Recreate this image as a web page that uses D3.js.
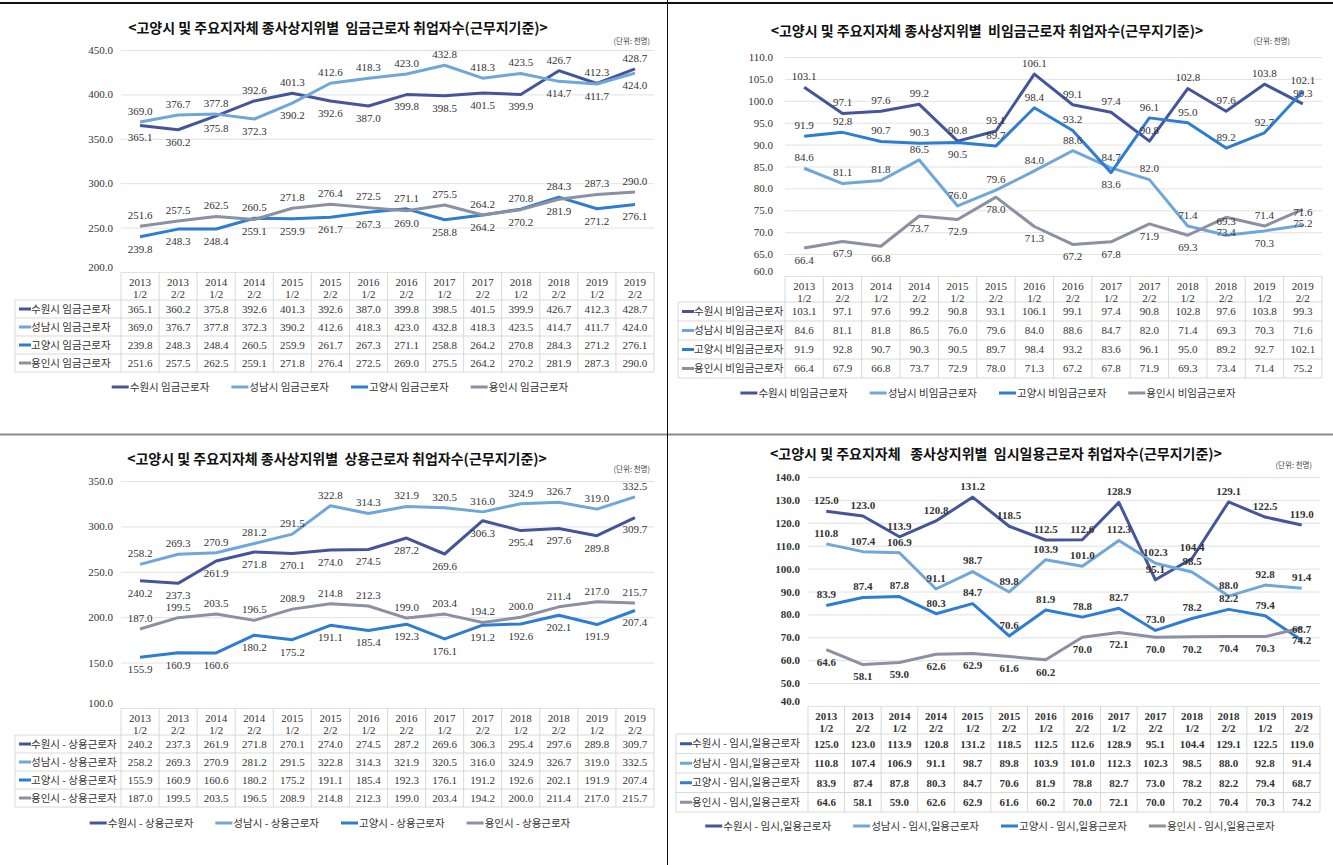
<!DOCTYPE html>
<html>
<head>
<meta charset="utf-8">
<script src="https://cdn.jsdelivr.net/npm/d3@7"></script>
<style>
  body { margin: 0; background: #fff; }
  svg { display: block; }
</style>
</head>
<body>
<svg id="chart" width="1333" height="865"></svg>
<script>
// ---- data ----
const periodYears  = ["2013", "2013", "2014", "2014", "2015", "2015", "2016", "2016", "2017", "2017", "2018", "2018", "2019", "2019"];
const periodHalves = ["1/2", "2/2", "1/2", "2/2", "1/2", "2/2", "1/2", "2/2", "1/2", "2/2", "1/2", "2/2", "1/2", "2/2"];
const cities = ["수원시", "성남시", "고양시", "용인시"];

// 임금근로자
const wageSuwon    = [365.1, 360.2, 375.8, 392.6, 401.3, 392.6, 387.0, 399.8, 398.5, 401.5, 399.9, 426.7, 412.3, 428.7];
const wageSeongnam = [369.0, 376.7, 377.8, 372.3, 390.2, 412.6, 418.3, 423.0, 432.8, 418.3, 423.5, 414.7, 411.7, 424.0];
const wageGoyang   = [239.8, 248.3, 248.4, 260.5, 259.9, 261.7, 267.3, 271.1, 258.8, 264.2, 270.8, 284.3, 271.2, 276.1];
const wageYongin   = [251.6, 257.5, 262.5, 259.1, 271.8, 276.4, 272.5, 269.0, 275.5, 264.2, 270.2, 281.9, 287.3, 290.0];

// 비임금근로자
const nonwageSuwon    = [103.1, 97.1, 97.6, 99.2, 90.8, 93.1, 106.1, 99.1, 97.4, 90.8, 102.8, 97.6, 103.8, 99.3];
const nonwageSeongnam = [84.6, 81.1, 81.8, 86.5, 76.0, 79.6, 84.0, 88.6, 84.7, 82.0, 71.4, 69.3, 70.3, 71.6];
const nonwageGoyang   = [91.9, 92.8, 90.7, 90.3, 90.5, 89.7, 98.4, 93.2, 83.6, 96.1, 95.0, 89.2, 92.7, 102.1];
const nonwageYongin   = [66.4, 67.9, 66.8, 73.7, 72.9, 78.0, 71.3, 67.2, 67.8, 71.9, 69.3, 73.4, 71.4, 75.2];

// 상용근로자
const regularSuwon    = [240.2, 237.3, 261.9, 271.8, 270.1, 274.0, 274.5, 287.2, 269.6, 306.3, 295.4, 297.6, 289.8, 309.7];
const regularSeongnam = [258.2, 269.3, 270.9, 281.2, 291.5, 322.8, 314.3, 321.9, 320.5, 316.0, 324.9, 326.7, 319.0, 332.5];
const regularGoyang   = [155.9, 160.9, 160.6, 180.2, 175.2, 191.1, 185.4, 192.3, 176.1, 191.2, 192.6, 202.1, 191.9, 207.4];
const regularYongin   = [187.0, 199.5, 203.5, 196.5, 208.9, 214.8, 212.3, 199.0, 203.4, 194.2, 200.0, 211.4, 217.0, 215.7];

// 임시,일용근로자
const tempSuwon    = [125.0, 123.0, 113.9, 120.8, 131.2, 118.5, 112.5, 112.6, 128.9, 95.1, 104.4, 129.1, 122.5, 119.0];
const tempSeongnam = [110.8, 107.4, 106.9, 91.1, 98.7, 89.8, 103.9, 101.0, 112.3, 102.3, 98.5, 88.0, 92.8, 91.4];
const tempGoyang   = [83.9, 87.4, 87.8, 80.3, 84.7, 70.6, 81.9, 78.8, 82.7, 73.0, 78.2, 82.2, 79.4, 68.7];
const tempYongin   = [64.6, 58.1, 59.0, 62.6, 62.9, 61.6, 60.2, 70.0, 72.1, 70.0, 70.2, 70.4, 70.3, 74.2];

// ---- styles ----
const cityColors = ["#45559b", "#6fa7d9", "#2e7dd2", "#8b90a3"];
const serif = "'Liberation Serif', 'DejaVu Serif', serif";
const sans  = "'Noto Sans CJK KR', 'Noto Sans', sans-serif";
const textColor = "#333";
const gridColor = "#e2e2e2";

const svg = d3.select("#chart");
svg.append("rect").attr("width", 1333).attr("height", 865).attr("fill", "#fff");

function drawPanel(p) {
  const g = svg.append("g");
  const n = periodYears.length;
  const x = d3.scaleBand().domain(d3.range(n)).range([p.left, p.right]);
  const cx = i => x(i) + x.bandwidth() / 2;
  const y = d3.scaleLinear().domain(p.domain).range([p.bottom, p.top]);
  const ticks = d3.range(p.domain[0], p.domain[1] + p.step / 2, p.step);
  const weight = p.bold ? "bold" : "normal";

  // title + unit
  g.append("text")
    .attr("x", p.titleX).attr("y", p.titleY)
    .attr("text-anchor", "middle")
    .attr("font-family", sans).attr("font-weight", "bold").attr("font-size", "14px")
    .attr("fill", "#111")
    .style("white-space", "pre")
    .text(p.title);
  g.append("text")
    .attr("x", p.unitX).attr("y", p.unitY)
    .attr("text-anchor", "end")
    .attr("font-family", sans).attr("font-size", "7.5px").attr("fill", "#444")
    .text("(단위: 천명)");

  // gridlines and value axis
  g.append("g")
    .attr("transform", `translate(${p.left},0)`)
    .call(d3.axisLeft(y).tickValues(ticks).tickSize(-(p.right - p.left))
      .tickPadding(p.left - p.yLabelRight).tickFormat(d => d.toFixed(1)))
    .call(a => a.select(".domain").remove())
    .call(a => a.selectAll("line").attr("stroke", gridColor))
    .call(a => a.selectAll("text")
      .attr("font-family", serif).attr("font-size", "11px")
      .attr("font-weight", weight).attr("fill", textColor)
      .attr("dy", d => d === p.domain[0] ? "-0.1em" : "0.32em"));

  // lines
  const line = d3.line().x((d, i) => cx(i)).y(d => y(d));
  p.series.forEach((s, si) => {
    g.append("path")
      .datum(s)
      .attr("fill", "none")
      .attr("stroke", cityColors[si])
      .attr("stroke-width", 3)
      .attr("stroke-linejoin", "round")
      .attr("d", line);
  });

  // data labels: each series has a default side, flipped when a neighbouring line is too close
  const side = (si, i) => {
    const py = y(p.series[si][i]);
    const def = p.sides[si];
    for (let sj = 0; sj < p.series.length; sj++) {
      if (sj === si) continue;
      const oy = y(p.series[sj][i]);
      if (def === "above" && oy <= py && py - oy < p.flip) return "below";
      if (def === "below" && oy >= py && oy - py < p.flip) return "above";
    }
    return def;
  };
  const labels = [];
  d3.range(n).forEach(i => {
    const col = p.series.map((s, si) => ({
      i, v: s[i],
      ly: y(s[i]) + (side(si, i) === "above" ? -11 : 12)
    })).sort((a, b) => a.ly - b.ly);
    // push apart labels that would sit on top of each other
    for (let k = 1; k < col.length; k++) {
      const gap = col[k].ly - col[k - 1].ly;
      if (gap < 11) {
        const d = (11 - gap) / 2;
        col[k - 1].ly -= d;
        col[k].ly += d;
      }
    }
    labels.push(...col);
  });
  g.append("g").selectAll("text")
    .data(labels)
    .join("text")
    .attr("x", d => cx(d.i))
    .attr("y", d => d.ly)
    .attr("dy", "0.35em")
    .attr("text-anchor", "middle")
    .attr("font-family", serif).attr("font-size", "11px")
    .attr("font-weight", weight).attr("fill", textColor)
    .text(d => d.v.toFixed(1));

  // data table
  const headTop = p.bottom, headBottom = p.headBottom;
  const rowTop = i => headBottom + i * p.rowH;
  const tableBottom = rowTop(p.series.length);
  const border = g.append("g").attr("stroke", "#d9d9d9").attr("stroke-width", 1);
  d3.range(n + 1).forEach(i => {
    const xx = i < n ? x(i) : p.right;
    border.append("line").attr("x1", xx).attr("x2", xx).attr("y1", headTop).attr("y2", tableBottom);
  });
  border.append("line").attr("x1", p.tableLeft).attr("x2", p.tableLeft).attr("y1", headBottom).attr("y2", tableBottom);
  d3.range(p.series.length + 1).forEach(r => {
    border.append("line").attr("x1", p.tableLeft).attr("x2", p.right)
      .attr("y1", rowTop(r)).attr("y2", rowTop(r));
  });

  const head = g.append("g")
    .attr("font-family", serif).attr("font-size", "11px")
    .attr("font-weight", weight).attr("fill", textColor).attr("text-anchor", "middle");
  head.selectAll("text.yr").data(periodYears).join("text")
    .attr("x", (d, i) => cx(i)).attr("y", headTop + 10).attr("dy", "0.35em").text(d => d);
  head.selectAll("text.hf").data(periodHalves).join("text")
    .attr("x", (d, i) => cx(i)).attr("y", headTop + 22).attr("dy", "0.35em").text(d => d);

  p.series.forEach((s, si) => {
    const my = rowTop(si) + p.rowH / 2;
    g.append("line")
      .attr("x1", p.tableLeft + 4).attr("x2", p.tableLeft + 16)
      .attr("y1", my).attr("y2", my)
      .attr("stroke", cityColors[si]).attr("stroke-width", 3);
    g.append("text")
      .attr("x", p.tableLeft + 16).attr("y", my).attr("dy", "0.35em")
      .attr("font-family", sans).attr("font-size", "10.5px").attr("fill", textColor)
      .text(p.names[si]);
    g.append("g").selectAll("text").data(s).join("text")
      .attr("x", (d, i) => cx(i)).attr("y", my).attr("dy", "0.35em")
      .attr("text-anchor", "middle")
      .attr("font-family", serif).attr("font-size", "11px")
      .attr("font-weight", weight).attr("fill", textColor)
      .text(d => d.toFixed(1));
  });

  // legend
  const legend = g.append("g");
  let lx = 0;
  p.names.forEach((name, si) => {
    const item = legend.append("g").attr("transform", `translate(${lx},0)`);
    item.append("line").attr("x1", 0).attr("x2", 17)
      .attr("y1", 0).attr("y2", 0)
      .attr("stroke", cityColors[si]).attr("stroke-width", 3);
    const t = item.append("text")
      .attr("x", 18).attr("y", 0).attr("dy", "0.35em")
      .attr("font-family", sans).attr("font-size", "10.5px").attr("fill", textColor)
      .text(name);
    lx += 18 + t.node().getComputedTextLength() + p.legendGap;
  });
  const legendWidth = lx - p.legendGap;
  legend.attr("transform", `translate(${p.legendX - legendWidth / 2},${p.legendY})`);
}

drawPanel({
  title: "<고양시 및 주요지자체 종사상지위별  임금근로자 취업자수(근무지기준)>",
  titleX: 338, titleY: 33, unitX: 650, unitY: 44,
  series: [wageSuwon, wageSeongnam, wageGoyang, wageYongin],
  names: cities.map(c => c + " 임금근로자"),
  domain: [200, 450], step: 50,
  left: 121, right: 654, top: 50, bottom: 272, yLabelRight: 113,
  headBottom: 300, rowH: 18, tableLeft: 15,
  legendX: 340, legendY: 387, legendGap: 22,
  sides: ["below", "above", "below", "above"], flip: 32, bold: false
});

drawPanel({
  title: "<고양시 및 주요지자체 종사상지위별  비임금근로자 취업자수(근무지기준)>",
  titleX: 987, titleY: 36, unitX: 1290, unitY: 44,
  series: [nonwageSuwon, nonwageSeongnam, nonwageGoyang, nonwageYongin],
  names: cities.map(c => c + " 비임금근로자"),
  domain: [60, 110], step: 5,
  left: 785, right: 1322, top: 57, bottom: 276, yLabelRight: 773,
  headBottom: 302, rowH: 19, tableLeft: 678,
  legendX: 988, legendY: 393, legendGap: 22,
  sides: ["above", "above", "above", "below"], flip: 12, bold: false
});

drawPanel({
  title: "<고양시 및 주요지자체 종사상지위별  상용근로자 취업자수(근무지기준)>",
  titleX: 337, titleY: 464, unitX: 650, unitY: 472,
  series: [regularSuwon, regularSeongnam, regularGoyang, regularYongin],
  names: cities.map(c => c + " - 상용근로자"),
  domain: [100, 350], step: 50,
  left: 121, right: 654, top: 481, bottom: 708, yLabelRight: 113,
  headBottom: 735, rowH: 18, tableLeft: 15,
  legendX: 330, legendY: 823, legendGap: 22,
  sides: ["below", "above", "below", "above"], flip: 0, bold: false
});

drawPanel({
  title: "<고양시 및 주요지자체   종사상지위별  임시일용근로자 취업자수(근무지기준)>",
  titleX: 996, titleY: 459, unitX: 1312, unitY: 468,
  series: [tempSuwon, tempSeongnam, tempGoyang, tempYongin],
  names: cities.map(c => c + " - 임시,일용근로자"),
  domain: [40, 140], step: 10,
  left: 808, right: 1320, top: 477, bottom: 706, yLabelRight: 800,
  headBottom: 734, rowH: 19.5, tableLeft: 676,
  legendX: 990, legendY: 826, legendGap: 22,
  sides: ["above", "above", "above", "below"], flip: 0, bold: true
});

// panel frame lines
svg.append("line").attr("x1", 0).attr("x2", 1333).attr("y1", 3).attr("y2", 3)
  .attr("stroke", "#111").attr("stroke-width", 2);
svg.append("line").attr("x1", 0).attr("x2", 1333).attr("y1", 434.5).attr("y2", 434.5)
  .attr("stroke", "#8a8a8a").attr("stroke-width", 2);
svg.append("line").attr("x1", 667.5).attr("x2", 667.5).attr("y1", 0).attr("y2", 865)
  .attr("stroke", "#111").attr("stroke-width", 1);
</script>
</body>
</html>
